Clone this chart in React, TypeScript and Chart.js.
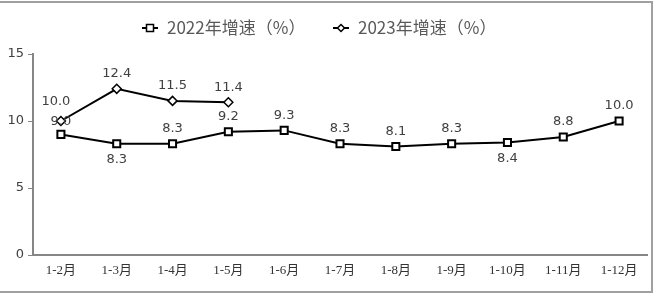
import React, { useEffect, useRef } from "react";
import { Chart, registerables } from "chart.js";

Chart.register(...registerables);

const categories = ["1-2月", "1-3月", "1-4月", "1-5月", "1-6月", "1-7月", "1-8月", "1-9月", "1-10月", "1-11月", "1-12月"];
const series2022 = [9.0, 8.3, 8.3, 9.2, 9.3, 8.3, 8.1, 8.3, 8.4, 8.8, 10.0];
const series2023 = [10.0, 12.4, 11.5, 11.4, null, null, null, null, null, null, null];
const label2022 = "2022年增速（%）";
const label2023 = "2023年增速（%）";
// label placement: 1 = above, -1 = below
const place2022 = [1, -1, 1, 1, 1, 1, 1, 1, -1, 1, 1];
const place2023 = [1, 1, 1, 1, 1, 1, 1, 1, 1, 1, 1];
const yTicks = [0, 5, 10, 15];

const labelPlugin = {
  id: "valueLabels",
  afterDatasetsDraw(chart: any) {
    const ctx = chart.ctx;
    ctx.save();
    ctx.font = "13px 'DejaVu Sans'";
    ctx.fillStyle = "#404040";
    ctx.textAlign = "center";
    ctx.textBaseline = "middle";
    const places = [place2022, place2023];
    chart.data.datasets.forEach((ds: any, di: number) => {
      const meta = chart.getDatasetMeta(di);
      meta.data.forEach((pt: any, i: number) => {
        const v = ds.data[i];
        if (v === null || v === undefined) return;
        const dir = places[di][i];
        let off = dir > 0 ? -15 : 16;
        let dx = 0;
        if (di === 0 && i === 0) off = -13;
        if (di === 1 && i === 0) { off = -19; dx = -5; }
        ctx.fillText(v.toFixed(1), pt.x + dx, pt.y + off);
      });
    });
    ctx.restore();
  },
};

const legendPlugin = {
  id: "customLegend",
  afterDraw(chart: any) {
    const ctx = chart.ctx;
    ctx.save();
    ctx.font = "17px 'Noto Sans CJK SC'";
    ctx.textBaseline = "middle";
    const y = 28;
    const items = [
      { text: label2022, style: "rect", x: 142 },
      { text: label2023, style: "diamond", x: 333 },
    ];
    const markerW = 16;
    const gapMT = 9;
    items.forEach((it) => {
      const x = it.x;
      ctx.strokeStyle = "#000";
      ctx.lineWidth = 2;
      ctx.beginPath();
      ctx.moveTo(x, y);
      ctx.lineTo(x + markerW, y);
      ctx.stroke();
      const cx = x + markerW / 2;
      ctx.fillStyle = "#fff";
      ctx.lineWidth = 1.5;
      ctx.beginPath();
      if (it.style === "rect") {
        ctx.rect(cx - 3.5, y - 3.5, 7, 7);
      } else {
        ctx.moveTo(cx, y - 3.5);
        ctx.lineTo(cx + 3.5, y);
        ctx.lineTo(cx, y + 3.5);
        ctx.lineTo(cx - 3.5, y);
        ctx.closePath();
      }
      ctx.fill();
      ctx.stroke();
      ctx.fillStyle = "#595959";
      ctx.textAlign = "left";
      ctx.fillText(it.text, x + markerW + gapMT, y);
    });
    ctx.restore();
  },
};

export default function App() {
  const ref = useRef<HTMLCanvasElement>(null);
  useEffect(() => {
    document.body.style.margin = "0";
    const chart = new Chart(ref.current!, {
      type: "line",
      data: {
        labels: categories,
        datasets: [
          {
            label: label2022,
            data: series2022,
            borderColor: "#000",
            borderWidth: 2,
            pointStyle: "rect",
            pointRadius: 5,
            pointBorderWidth: 2,
            pointBackgroundColor: "#fff",
            pointBorderColor: "#000",
            tension: 0,
          },
          {
            label: label2023,
            data: series2023,
            borderColor: "#000",
            borderWidth: 2,
            pointStyle: "rectRot",
            pointRadius: 4.5,
            pointBorderWidth: 1.5,
            pointBackgroundColor: "#fff",
            pointBorderColor: "#000",
            tension: 0,
            spanGaps: false,
          },
        ],
      },
      options: {
        animation: false,
        responsive: false,
        maintainAspectRatio: false,
        layout: { padding: { top: 54, right: 6, left: 0, bottom: 0 } },
        plugins: { legend: { display: false }, tooltip: { enabled: false } },
        scales: {
          x: {
            offset: true,
            grid: { display: true, drawOnChartArea: false, drawTicks: false, color: "#868686" },
            border: { display: true, color: "#868686", width: 2 },
            ticks: {
              color: "#333333",
              font: { family: "'Liberation Serif', 'Noto Sans CJK SC'", size: 13 },
              padding: 8,
              maxRotation: 0,
              autoSkip: false,
            },
            afterFit: (s: any) => { s.height = 38; },
          },
          y: {
            min: 0,
            max: 15,
            afterBuildTicks: (s: any) => { s.ticks = yTicks.map((v) => ({ value: v })); },
            grid: { display: true, drawOnChartArea: false, drawTicks: true, tickLength: 5, color: "#868686" },
            border: { display: true, color: "#868686", width: 2 },
            ticks: {
              color: "#404040",
              font: { family: "'DejaVu Sans'", size: 13 },
              padding: 4,
            },
            afterFit: (s: any) => { s.width = 33; },
          },
        },
      },
      plugins: [labelPlugin, legendPlugin],
    });
    return () => chart.destroy();
  }, []);
  return (
    <div style={{ position: "absolute", left: 0, top: 0, width: 654, height: 293, background: "#fff" }}>
      <canvas ref={ref} width={654} height={293} style={{ display: "block" }} />
      <div style={{ position: "absolute", left: 0, top: 1, width: 651, height: 288, borderTop: "2px solid #a0a0a0", borderRight: "2px solid #a0a0a0", borderBottom: "2px solid #a0a0a0", pointerEvents: "none" }} />
    </div>
  );
}
